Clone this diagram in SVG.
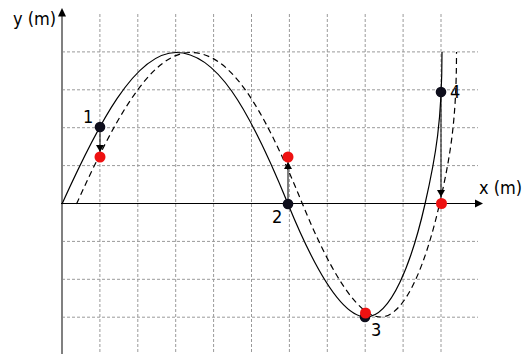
<svg xmlns="http://www.w3.org/2000/svg" width="523" height="356" viewBox="0 0 523 356">
<defs>
<style>
.grid{stroke:#9a9a9a;stroke-width:1;stroke-dasharray:3,2;fill:none}
.wave{stroke:#000;stroke-width:1.2;fill:none}
.dash{stroke-dasharray:6,4}
.lbl{font-family:"DejaVu Sans Condensed","DejaVu Sans",sans-serif;font-stretch:condensed;font-size:18px;fill:#000}
.blk{fill:#0e0e1c}
.red{fill:#ee1111}
.arr{stroke:#000;stroke-width:1;fill:none;marker-end:url(#ah)}
</style>
<marker id="ah" markerWidth="7" markerHeight="8" refX="7" refY="4" orient="auto" markerUnits="userSpaceOnUse">
<path d="M0,0 L7,4 L0,8 z" fill="#000"/>
</marker>
</defs>
<rect width="523" height="356" fill="#fff"/>
<g id="grid">
<path class="grid" d="M99.9,14V353M137.8,14V353M175.7,14V353M213.6,14V353M251.5,14V353M289.4,14V353M327.3,14V353M365.2,14V353M403.1,14V353M441,14V353"/>
<path class="grid" d="M62,51.9H478M62,89.8H478M62,127.7H478M62,165.6H478M62,241.4H478M62,279.3H478M62,317.2H478"/>
</g>
<g id="axes">
<line x1="62" y1="16" x2="62" y2="354" stroke="#808080" stroke-width="2"/>
<path d="M62,8 L58,16.5 L66,16.5 z" fill="#000"/>
<line x1="61" y1="203.5" x2="476" y2="203.5" stroke="#000" stroke-width="1.2"/>
<path d="M483,203.5 L475,199.5 L475,207.5 z" fill="#000"/>
<text class="lbl" x="13" y="25">y (m)</text>
<text class="lbl" x="479" y="194">x (m)</text>
</g>
<g id="connectors">
<path id="solid" class="wave" d="M62,204 C98,124.4 135.1,52.5 176,52.5 C216,52.5 248,106 288,204 C311.7,262 341,317 366,317 C391,317 411.8,262 425,204 C436,156 442,120 442,52"/>
<path id="dashed" class="wave dash" transform="translate(14.5,0)" d="M62,204 C98,124.4 135.1,52.5 176,52.5 C216,52.5 248,106 288,204 C311.7,262 341,317 366,317 C391,317 411.8,262 425,204 C436,156 442,120 442,52"/>
<line class="arr" x1="100" y1="132" x2="100" y2="152"/>
<line class="arr" x1="288" y1="199" x2="288" y2="162"/>
<line class="arr" x1="441" y1="97" x2="441" y2="197"/>
</g>
<g id="p1">
<circle class="blk" cx="100" cy="127" r="5.3"/>
<circle class="red" cx="100" cy="157" r="5.5"/>
<text class="lbl" x="83" y="123">1</text>
</g>
<g id="p2">
<circle class="blk" cx="288" cy="204" r="5.3"/>
<circle class="red" cx="288" cy="157" r="5.5"/>
<text class="lbl" x="272" y="223">2</text>
</g>
<g id="p3">
<circle class="blk" cx="365" cy="317" r="5.3"/>
<circle class="red" cx="365.5" cy="313" r="5.5"/>
<text class="lbl" x="371" y="336">3</text>
</g>
<g id="p4">
<circle class="blk" cx="441" cy="92" r="5.3"/>
<circle class="red" cx="441.5" cy="203.5" r="5.5"/>
<text class="lbl" x="450" y="98">4</text>
</g>
</svg>
